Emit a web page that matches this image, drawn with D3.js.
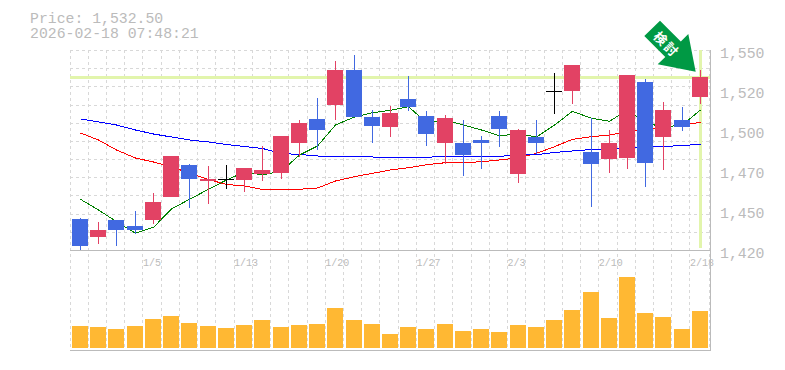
<!DOCTYPE html>
<html><head><meta charset="utf-8">
<style>html,body{margin:0;padding:0;background:#fff}svg{display:block}</style>
<script src="https://cdn.jsdelivr.net/npm/d3@7"></script></head>
<body><svg id="c" width="785" height="370"></svg>
<script>
const dates=["12/25","12/26","12/29","12/30","1/5","1/6","1/7","1/8","1/9","1/13","1/14","1/15","1/16","1/19","1/20","1/21","1/22","1/23","1/26","1/27","1/28","1/29","1/30","2/2","2/3","2/4","2/5","2/6","2/9","2/10","2/12","2/13","2/16","2/17","2/18"];
const tickDates=["1/5","1/13","1/20","1/27","2/3","2/10","2/18"];
const priceTicks=[1420,1446,1472,1498,1524,1550];
const opens=[1440.15,1428.45,1439.5,1435.6,1439.5,1454.45,1475.25,1464.85,1466,1465.5,1469.4,1470.05,1489.55,1505.15,1514.25,1537,1506.45,1499.95,1518.15,1507.1,1489.55,1489.55,1491.5,1507.1,1469.4,1493.45,1523.4,1523.35,1483.7,1479.15,1479.8,1529.2,1493.45,1504.5,1519.45];
const closes=[1422.8,1433,1433,1433,1451.2,1481.1,1466.15,1466.15,1466,1473.3,1472,1494.1,1502.55,1498,1537,1506.45,1500.6,1509.05,1512.95,1495.4,1505.8,1481.75,1489.55,1498.65,1498,1489.55,1523.4,1540.25,1475.9,1489.55,1533.75,1476.55,1511,1500,1532.5];
const highs=[1440.8,1438.2,1439.5,1445.35,1457.05,1481.1,1475.9,1474.6,1475.25,1473.3,1487.6,1494.1,1504.5,1518.8,1542.85,1546.75,1511,1513.6,1533.1,1510.35,1507.75,1504.5,1494.1,1510.35,1498.65,1504.5,1535.05,1540.25,1505.8,1498,1533.75,1531.15,1516.2,1512.95,1537];
const lows=[1420,1423.9,1422.6,1430.4,1436.9,1454.45,1447.3,1449.9,1459.65,1457.7,1464.85,1466.15,1480.45,1485,1504.5,1506.45,1489.55,1493.45,1510.35,1487.6,1475.9,1468.1,1472.65,1486.95,1463.55,1482.4,1508.4,1514.9,1447.95,1470.05,1472.65,1460.95,1472,1497.35,1514.9];
const maShort=[1452.96,1446,1438.4,1430.85,1434.75,1446.65,1452.96,1459.46,1465.5,1470.7,1468.75,1471.35,1481.75,1487.6,1501.25,1506.45,1509.25,1510.8,1513.15,1502.75,1504.5,1501.25,1498,1494.3,1495.4,1493.45,1501.25,1510.15,1505.6,1503.65,1511,1502.55,1499.95,1501.25,1511];
const maMid=[1496.05,1491.5,1485,1479.8,1477.2,1473.95,1470.05,1465.83,1462.58,1461.6,1459.33,1459.33,1459.46,1460.3,1464.85,1467.65,1469.85,1472,1473.5,1475.45,1476.75,1476.75,1477.4,1478.5,1480,1482.85,1487.15,1491.95,1493.65,1494.75,1496.9,1498,1499.95,1501.25,1503];
const maLong=[1505.15,1503.2,1501.25,1498,1495.4,1493.45,1491.5,1490.2,1488.6,1487.3,1486,1482.7,1482.1,1481.1,1480.8,1480.65,1480.45,1479.8,1480.25,1480.25,1480.9,1480.9,1480.9,1480.9,1481.75,1481.95,1483.4,1484.35,1485.35,1485.65,1486.1,1486.95,1487.3,1487.9,1488.7];
const volumes=[22,21,19,22,29,32,25,22,20,23,28,21,23,24,40,28,24,14,21,19,24,17,19,16,23,21,28,38,56,30,71,35,31,19,37];
const lastPrice=1532.5;
const titleLines=["Price: 1,532.50","2026-02-18 07:48:21"];
const arrowLabel="検討";

const svg=d3.select("#c");
const x=d3.scaleBand().domain(dates).range([70,708.2]);
const y=d3.scaleLinear().domain([1420,1550]).range([250,50]);
const yV=d3.scaleLinear().domain([0,100]).range([348,248]);
const cx=d=>Math.round(x(d)+10)+0.5;
const gray="#bbbbbb", up="#e24264", down="#4169e1";
const mono="'Liberation Mono',monospace";
const crisp=g=>g.attr("shape-rendering","crispEdges");

// grid
const grid=crisp(svg.append("g")).attr("stroke","#d8d8d8").attr("stroke-dasharray","3,3").attr("fill","none");
const hGrid=d3.range(0,11).map(i=>50+i*200/11);
grid.selectAll(".h").data(hGrid).join("line").attr("x1",70).attr("x2",709).attr("y1",d=>Math.round(d)+.5).attr("y2",d=>Math.round(d)+.5);
grid.selectAll(".v").data(dates).join("line").attr("x1",d=>Math.floor(x(d))+.5).attr("x2",d=>Math.floor(x(d))+.5).attr("y1",50).attr("y2",350);
grid.append("line").attr("x1",709.5).attr("x2",709.5).attr("y1",50).attr("y2",350);

// current-price highlight
const hl=crisp(svg.append("g")).attr("fill","#e2f5ac");
hl.append("rect").attr("x",70).attr("width",640).attr("y",Math.round(y(lastPrice))-1).attr("height",3);
hl.append("rect").attr("x",cx(dates[34])-1.5).attr("width",3).attr("y",50).attr("height",198);

// axes lines
const ax=crisp(svg.append("g")).attr("stroke",gray).attr("stroke-width",1);
ax.append("line").attr("x1",70).attr("x2",711).attr("y1",250.5).attr("y2",250.5);
ax.append("line").attr("x1",70).attr("x2",711).attr("y1",350.5).attr("y2",350.5);
ax.append("line").attr("x1",710.5).attr("x2",710.5).attr("y1",50).attr("y2",351);

// moving averages
const line=a=>d3.line().x((d,i)=>cx(dates[i])).y(d=>y(d))(a);
[[maMid,"#ff0000"],[maLong,"#0000ff"],[maShort,"#008000"]].forEach(([a,c])=>
  svg.append("path").attr("d",line(a)).attr("fill","none").attr("stroke",c).attr("stroke-width",1).attr("shape-rendering","crispEdges"));

// candles
const cg=crisp(svg.append("g"));
dates.forEach((d,i)=>{
  const o=opens[i],c=closes[i],col=c>o?up:c<o?down:"#000000";
  const l=x(d)+2;
  cg.append("line").attr("x1",cx(d)).attr("x2",cx(d)).attr("y1",Math.round(y(highs[i]))).attr("y2",Math.round(y(lows[i]))).attr("stroke",col).attr("stroke-width",1);
  if(c===o){
    cg.append("line").attr("x1",Math.round(l)).attr("x2",Math.round(l)+16).attr("y1",Math.round(y(c))+.5).attr("y2",Math.round(y(c))+.5).attr("stroke",col);
  } else {
    const t=Math.round(y(Math.max(o,c))),b=Math.round(y(Math.min(o,c)));
    cg.append("rect").attr("x",Math.round(l)).attr("width",16).attr("y",t).attr("height",b-t).attr("fill",col);
  }
});

// volumes
crisp(svg.append("g")).selectAll("rect").data(volumes).join("rect")
  .attr("x",(d,i)=>Math.round(x(dates[i])+2)).attr("width",16)
  .attr("y",d=>yV(d)).attr("height",d=>yV(0)-yV(d)).attr("fill","#ffb833");

// labels
svg.append("g").selectAll("text").data(tickDates).join("text")
  .attr("x",d=>x(d)).attr("y",266).text(d=>d)
  .attr("font-family",mono).attr("font-size",10).attr("fill",gray);
const labelY=d3.scaleLinear().domain([0,5]).range([253,53]);
svg.append("g").selectAll("text").data(priceTicks).join("text")
  .attr("x",720).attr("y",(d,i)=>labelY(i)+5).text(d=>d3.format(",")(Math.round(d/10)*10))
  .attr("font-family",mono).attr("font-size",14.8).attr("fill",gray);
svg.append("g").selectAll("text").data(titleLines).join("text")
  .attr("x",30).attr("y",(d,i)=>23+i*15).text(d=>d)
  .attr("font-family",mono).attr("font-size",14.8).attr("fill",gray);

// arrow
const arrow=[[660,20.7],[680.8,41.5],[688.3,34],[695.7,71.7],[657.7,64.3],[665.3,57],[644.3,36]];
svg.append("polygon").attr("points",arrow.map(p=>p.join(",")).join(" ")).attr("fill","#009944");
svg.append("text").attr("transform","translate(667,44) rotate(45)").attr("text-anchor","middle").attr("dominant-baseline","central")
  .attr("font-family","'Noto Sans CJK JP'").attr("font-weight",700).attr("font-size",13).attr("letter-spacing",2).attr("fill","#fff").text(arrowLabel);
</script></body></html>
